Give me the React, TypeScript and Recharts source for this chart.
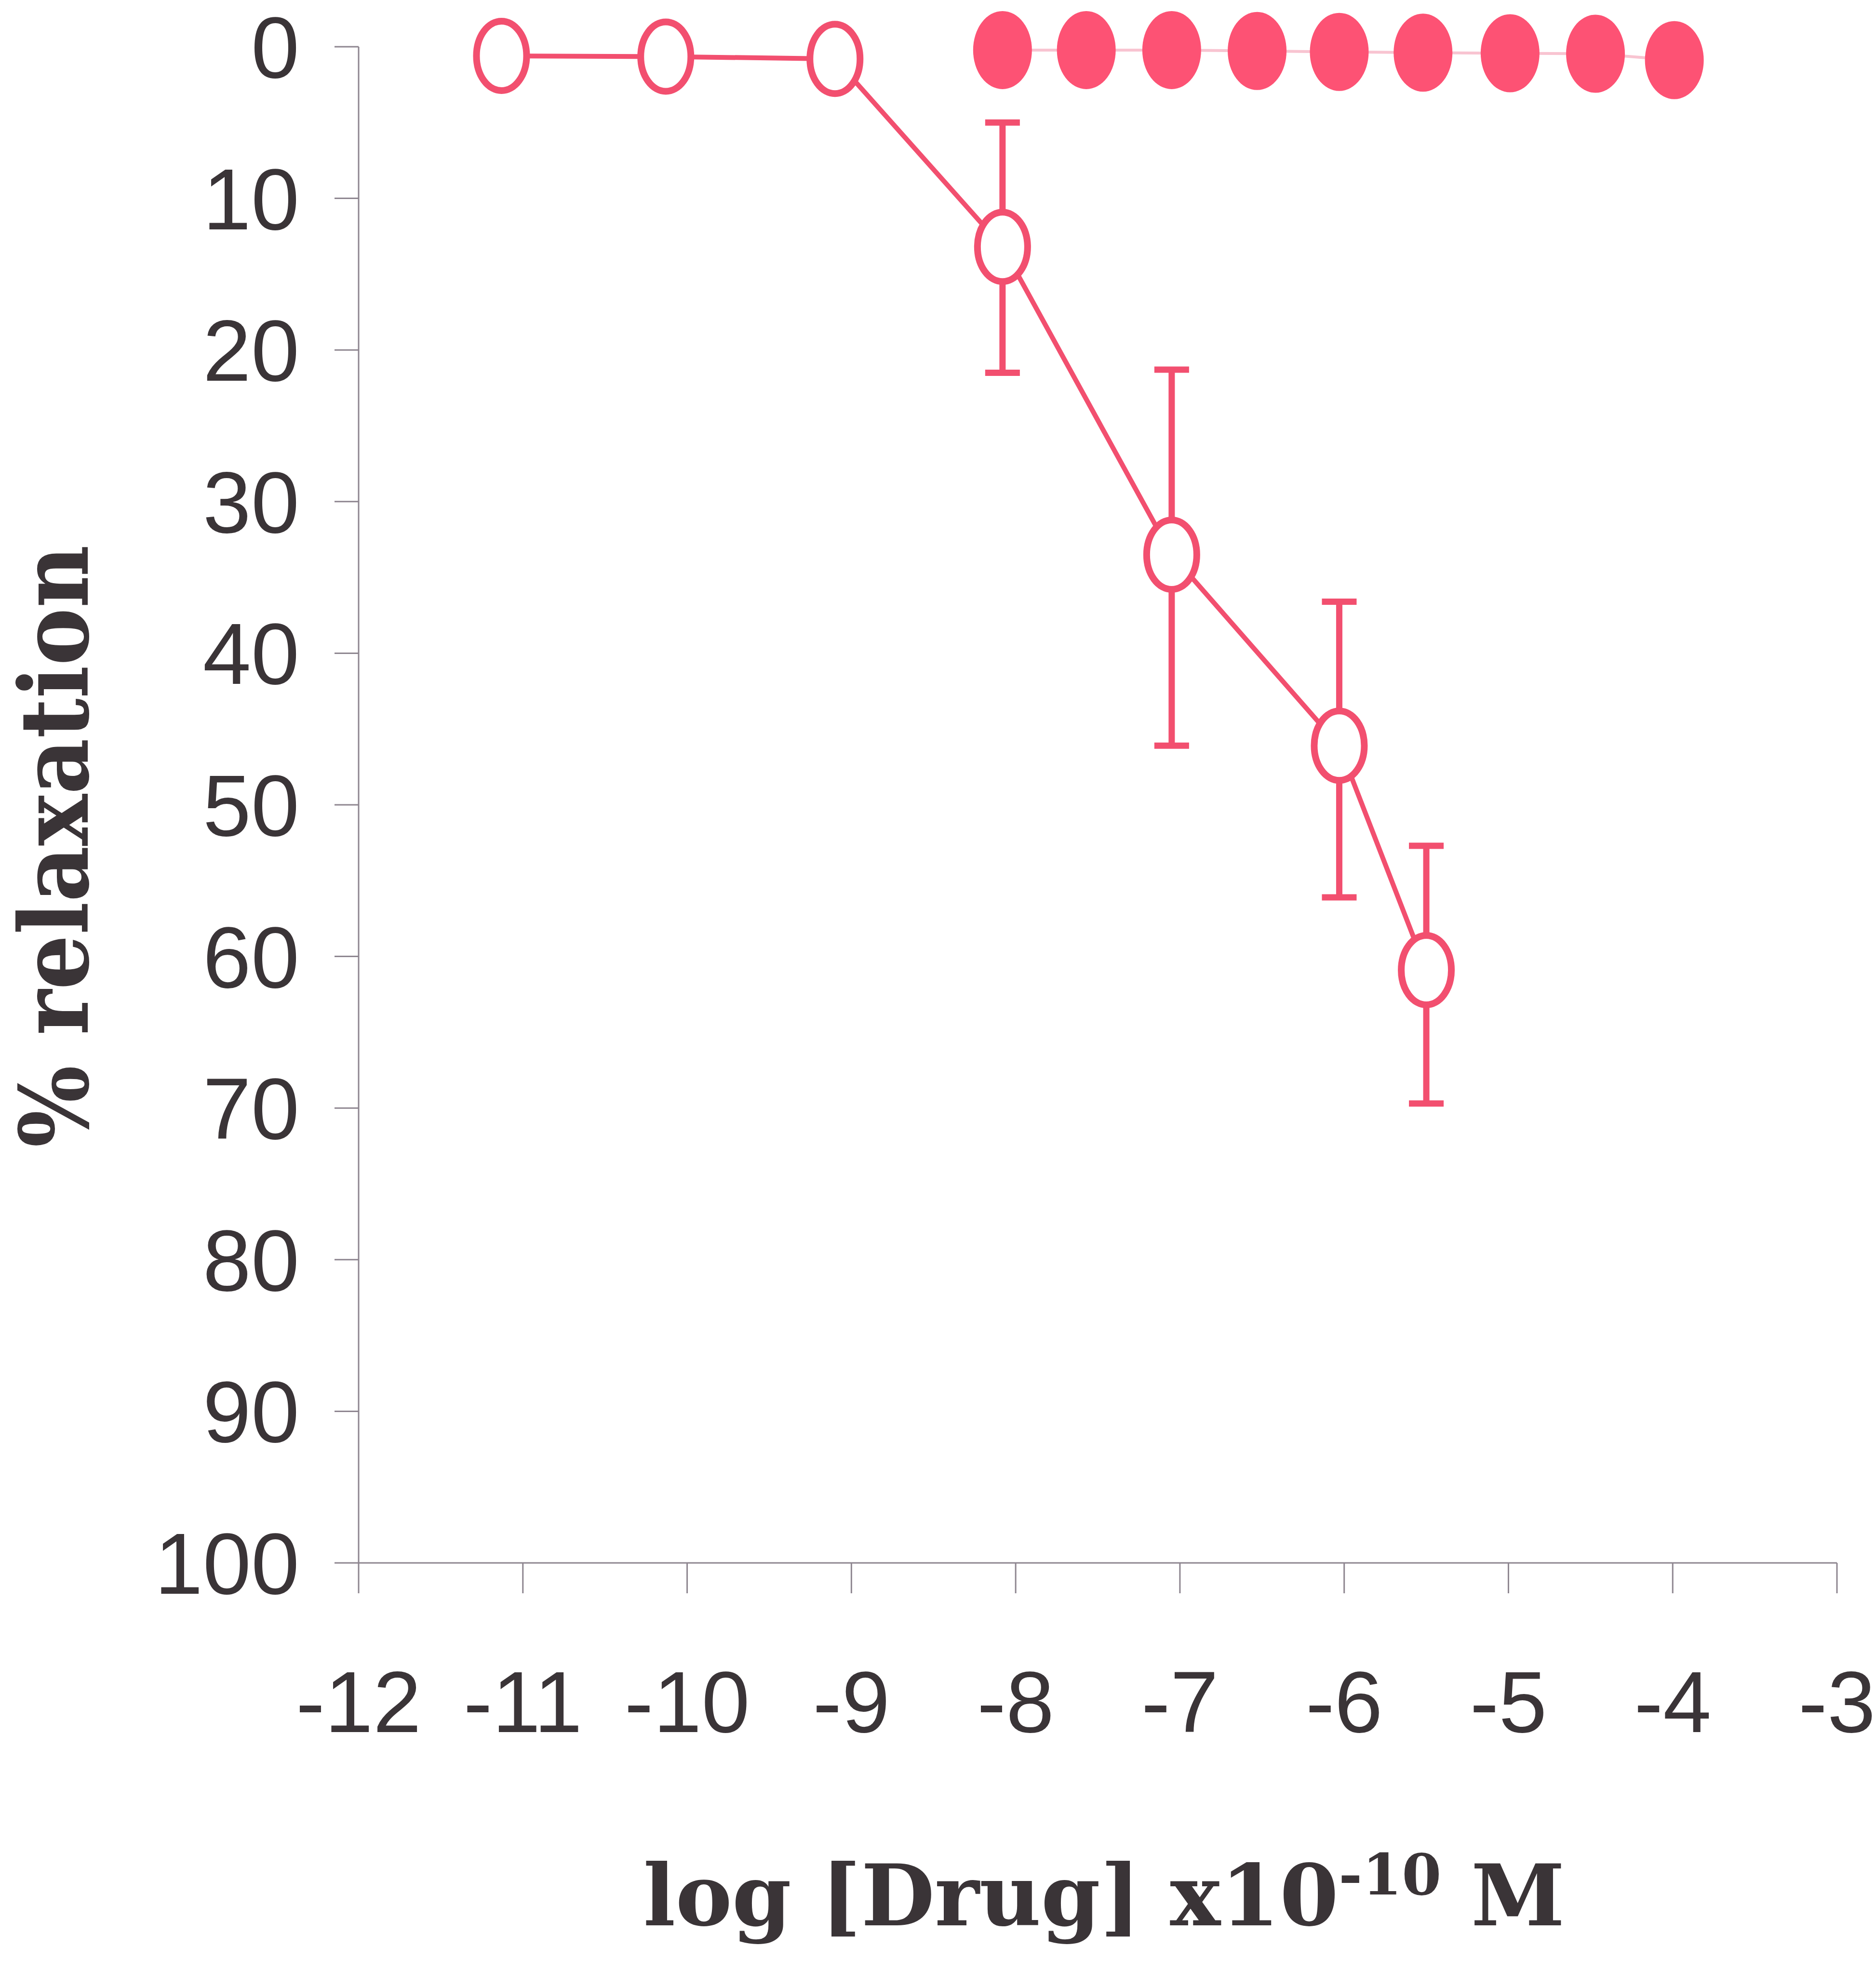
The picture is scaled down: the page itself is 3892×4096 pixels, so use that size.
import { ScatterChart, Scatter, XAxis, YAxis, ErrorBar, Label } from "recharts";

const xTicks = [-12, -11, -10, -9, -8, -7, -6, -5, -4, -3];
const yTicks = [0, 10, 20, 30, 40, 50, 60, 70, 80, 90, 100];

// open circles: concentration-response with SEM
const openLogConc = [-11.13, -10.13, -9.1, -8.08, -7.05, -6.03, -5.5];
const openRelax = [0.6, 0.65, 0.8, 13.2, 33.5, 46.1, 60.9];
const openErrLow = [null, null, null, 8.2, 12.2, 9.5, 8.2];
const openErrHigh = [null, null, null, 8.3, 12.6, 10.0, 8.8];

// filled circles: no response
const filledLogConc = [-8.08, -7.57, -7.05, -6.53, -6.03, -5.52, -4.99, -4.47, -3.99];
const filledRelax = [0.22, 0.22, 0.22, 0.28, 0.34, 0.39, 0.43, 0.46, 0.88];

const PINK = "#f24f6f";
const AXIS = "#8e8690";
const TEXT = "#3a3437";

const openData = openLogConc.map((x, i) => ({
  x,
  y: openRelax[i],
  err: openErrLow[i] == null ? null : [openErrLow[i], openErrHigh[i]],
}));
const filledData = filledLogConc.map((x, i) => ({ x, y: filledRelax[i] }));

const tickStyle = {
  fill: TEXT,
  fontSize: 180,
  fontFamily: "'Liberation Sans', Arial, sans-serif",
};

function OpenDot(props: any) {
  return (
    <ellipse
      cx={props.cx}
      cy={props.cy}
      rx={52}
      ry={72}
      fill="#ffffff"
      stroke={PINK}
      strokeWidth={14}
    />
  );
}

function FilledDot(props: any) {
  return <ellipse cx={props.cx} cy={props.cy} rx={61} ry={81} fill="#fd5274" />;
}

function XTitle(props: any) {
  const vb = props.viewBox;
  return (
    <text
      x={vb.x + vb.width / 2 + 13}
      y={vb.y + 752}
      textAnchor="middle"
      fill={TEXT}
      fontFamily="'DejaVu Serif', serif"
      fontWeight="bold"
      fontSize={176}
    >
      log [Drug] x10
      <tspan fontSize={118} dy={-64}>
        -10
      </tspan>
      <tspan dy={64}> M</tspan>
    </text>
  );
}

function YTitle(props: any) {
  const vb = props.viewBox;
  const cx = 182;
  const cy = vb.y + vb.height / 2 + 86;
  return (
    <text
      x={cx}
      y={cy}
      transform={`rotate(-90, ${cx}, ${cy})`}
      textAnchor="middle"
      fill={TEXT}
      fontFamily="'DejaVu Serif', serif"
      fontWeight="bold"
      fontSize={196}
      textLength={1250}
      lengthAdjust="spacingAndGlyphs"
    >
      % relaxation
    </text>
  );
}

export default function App() {
  return (
    <div style={{ position: "absolute", left: 0, top: 0, width: 3892, height: 4096, background: "#fff" }}>
      <ScatterChart width={3892} height={4096} margin={{ top: 97, right: 81, bottom: 0, left: 0 }}>
        <XAxis
          type="number"
          dataKey="x"
          domain={[-12, -3]}
          ticks={xTicks}
          interval={0}
          height={853}
          tickSize={63}
          tickMargin={160}
          stroke={AXIS}
          strokeWidth={3}
          tick={tickStyle}
        >
          <Label content={XTitle} />
        </XAxis>
        <YAxis
          type="number"
          dataKey="y"
          domain={[0, 100]}
          reversed
          ticks={yTicks}
          interval={0}
          width={744}
          tickSize={50}
          tickMargin={73}
          stroke={AXIS}
          strokeWidth={3}
          tick={tickStyle}
        >
          <Label content={YTitle} />
        </YAxis>
        <Scatter
          data={filledData}
          line={{ stroke: "#f8c4d1", strokeWidth: 6 }}
          lineType="joint"
          shape={FilledDot}
          isAnimationActive={false}
        />
        <Scatter
          data={openData}
          line={{ stroke: PINK, strokeWidth: 10 }}
          lineType="joint"
          shape={OpenDot}
          isAnimationActive={false}
        >
          <ErrorBar dataKey="err" direction="y" width={36} stroke={PINK} strokeWidth={13} isAnimationActive={false} />
        </Scatter>
      </ScatterChart>
    </div>
  );
}
